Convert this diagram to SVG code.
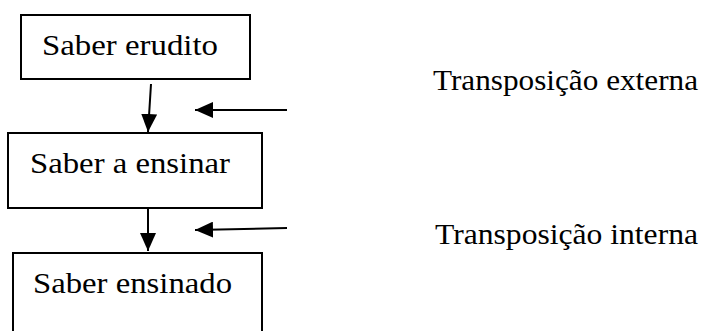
<svg xmlns="http://www.w3.org/2000/svg" width="706" height="331" viewBox="0 0 706 331">
<defs>
<marker id="ah2" viewBox="0 0 18 16" refX="18" refY="8" markerWidth="18" markerHeight="16" markerUnits="userSpaceOnUse" orient="auto">
<path d="M0,0 L18,8 L0,16 z" fill="#000"/>
</marker>
<style>
.box{fill:#fff;stroke:#000;stroke-width:2}
.bt{font-family:"Liberation Serif",serif;font-size:30px;fill:#000}
.lt{font-family:"Liberation Serif",serif;font-size:29px;fill:#000}
.c{stroke:#000;stroke-width:2;fill:none}
</style>
</defs>
<rect width="706" height="331" fill="#fff"/>
<g id="n1"><rect class="box" x="21" y="15" width="229" height="64"/><text class="bt" x="42" y="55" textLength="176" lengthAdjust="spacingAndGlyphs">Saber erudito</text></g>
<g id="n2"><rect class="box" x="8" y="133" width="254" height="75"/><text class="bt" x="30" y="173" textLength="200" lengthAdjust="spacingAndGlyphs">Saber a ensinar</text></g>
<g id="n3"><rect class="box" x="13" y="253" width="249" height="90"/><text class="bt" x="33" y="293" textLength="199" lengthAdjust="spacingAndGlyphs">Saber ensinado</text></g>
<g id="l1"><text class="lt" x="433" y="90" textLength="265" lengthAdjust="spacingAndGlyphs">Transposição externa</text></g>
<g id="l2"><text class="lt" x="435" y="244" textLength="263" lengthAdjust="spacingAndGlyphs">Transposição interna</text></g>
<g id="connectors">
<line class="c" x1="151" y1="84" x2="148" y2="132" marker-end="url(#ah2)"/>
<line class="c" x1="148" y1="208" x2="148" y2="251" marker-end="url(#ah2)"/>
<line class="c" x1="287" y1="110" x2="195" y2="110" marker-end="url(#ah2)"/>
<line class="c" x1="287" y1="228" x2="195" y2="230" marker-end="url(#ah2)"/>
</g>
</svg>
